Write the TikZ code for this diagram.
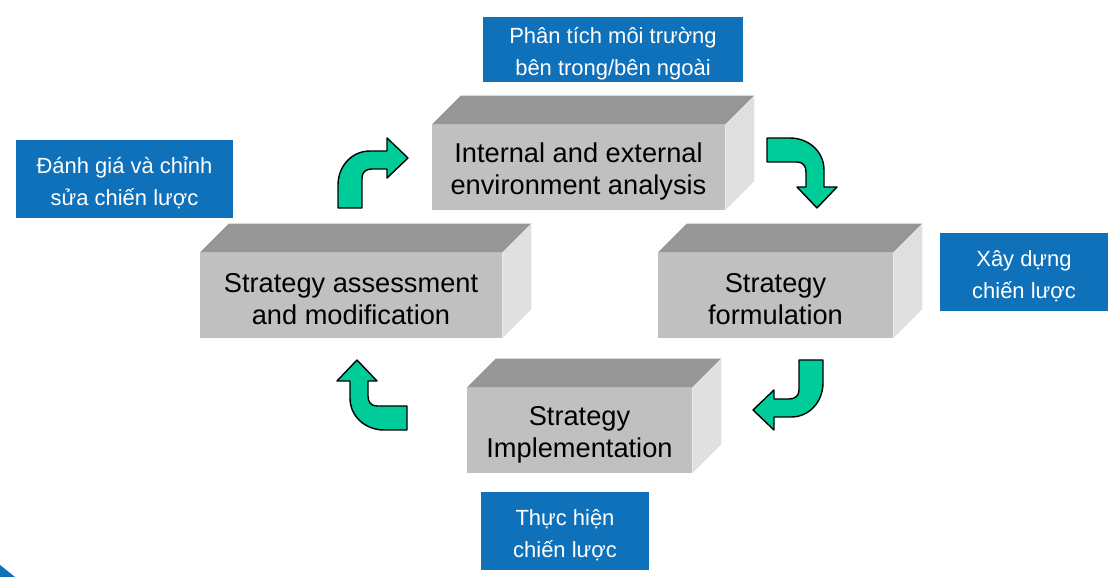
\documentclass[tikz,border=0pt]{standalone}
\usepackage{fontspec}
\setmainfont{Liberation Sans}
\usepackage{tikz}
\usetikzlibrary{positioning,calc}
\usepackage{xcolor}
\definecolor{boxfront}{HTML}{C0C0C0}
\definecolor{boxtop}{HTML}{969696}
\definecolor{boxside}{HTML}{E0E0E0}
\definecolor{labelblue}{HTML}{0F71BA}
\definecolor{turngreen}{HTML}{00CC99}

\begin{document}
\begin{tikzpicture}[
    x=0.02cm, y=-0.02cm,
    frontface/.style={fill=boxfront, inner sep=0pt, minimum height=1.7cm},
    boxtext/.style={inner sep=0pt, align=center, font=\fontsize{15.5}{18.2}\selectfont},
    bluelabel/.style={fill=labelblue, inner sep=0pt, minimum height=1.56cm},
    bluetext/.style={text=white, inner sep=0pt, align=center, font=\fontsize{12.5}{18}\selectfont},
    topface/.style={fill=boxtop},
    sideface/.style={fill=boxside},
    bentarrow/.pic={
        \draw[fill=turngreen, draw=black, line width=0.8pt, line join=round]
            (-35,35) -- (-11,35) -- (-11,5) .. controls (-11,-1) and (-7,-4) .. (-1,-4)
            -- (14,-4) -- (14,5) -- (35,-15) -- (14,-35) -- (14,-22) -- (-3,-22)
            .. controls (-22,-22) and (-35,-6) .. (-35,12) -- cycle;
    }
]
    \useasboundingbox (0,0) rectangle (1117,577);

    % Angolo decorativo
    \fill[labelblue] (0,565) -- (15,577) -- (0,577) -- cycle;

    % Blocchi (faccia frontale)
    \node[frontface, minimum width=5.86cm] (analysis) at (578.5,167.5) {};
    \node[frontface, minimum width=4.7cm] (formulation) at (775.5,295.5) {};
    \node[frontface, minimum width=6.04cm] (assessment) at (351,295.5) {};
    \node[frontface, minimum width=4.5cm] (implementation) at (579.5,430.5) {};

    % Facce superiore e laterale
    \foreach \n in {analysis, formulation, assessment, implementation} {
        \fill[topface] (\n.north west) -- ++(29,-29) -- ([shift={(29,-29)}]\n.north east) -- (\n.north east) -- cycle;
        \fill[sideface] (\n.north east) -- ++(29,-29) -- ([shift={(29,-29)}]\n.south east) -- (\n.south east) -- cycle;
    }

    % Testi dei blocchi
    \node[boxtext] (analysistext) at ([yshift=-0.08cm]analysis.center) {Internal and external\\environment analysis};
    \node[boxtext] (formulationtext) at ([yshift=-0.08cm]formulation.center) {Strategy\\formulation};
    \node[boxtext] (assessmenttext) at ([yshift=-0.08cm]assessment.center) {Strategy assessment\\and modification};
    \node[boxtext] (implementationtext) at ([yshift=-0.08cm]implementation.center) {Strategy\\Implementation};

    % Etichette in vietnamita
    \node[bluelabel, minimum width=5.2cm, minimum height=1.3cm] (lblanalysis) at (613,49.5) {};
    \node[bluelabel, minimum width=4.34cm] (lblassessment) at (124.5,179) {};
    \node[bluelabel, minimum width=3.36cm] (lblformulation) at (1024,272) {};
    \node[bluelabel, minimum width=3.36cm] (lblimplementation) at (565,531) {};

    \node[bluetext] (lblanalysistext) at ([yshift=-0.08cm]lblanalysis.center) {Phân tích môi trường\\bên trong/bên ngoài};
    \node[bluetext] (lblassessmenttext) at ([yshift=-0.08cm]lblassessment.center) {Đánh giá và chỉnh\\sửa chiến lược};
    \node[bluetext] (lblformulationtext) at ([yshift=-0.08cm]lblformulation.center) {Xây dựng\\chiến lược};
    \node[bluetext] (lblimplementationtext) at ([yshift=-0.08cm]lblimplementation.center) {Thực hiện\\chiến lược};

    % Frecce del ciclo
    \pic at (373,173) {bentarrow};
    \pic[rotate=-90] at (802,173) {bentarrow};
    \pic[rotate=180] at (788,395) {bentarrow};
    \pic[rotate=90] at (372,395) {bentarrow};

\end{tikzpicture}
\end{document}
